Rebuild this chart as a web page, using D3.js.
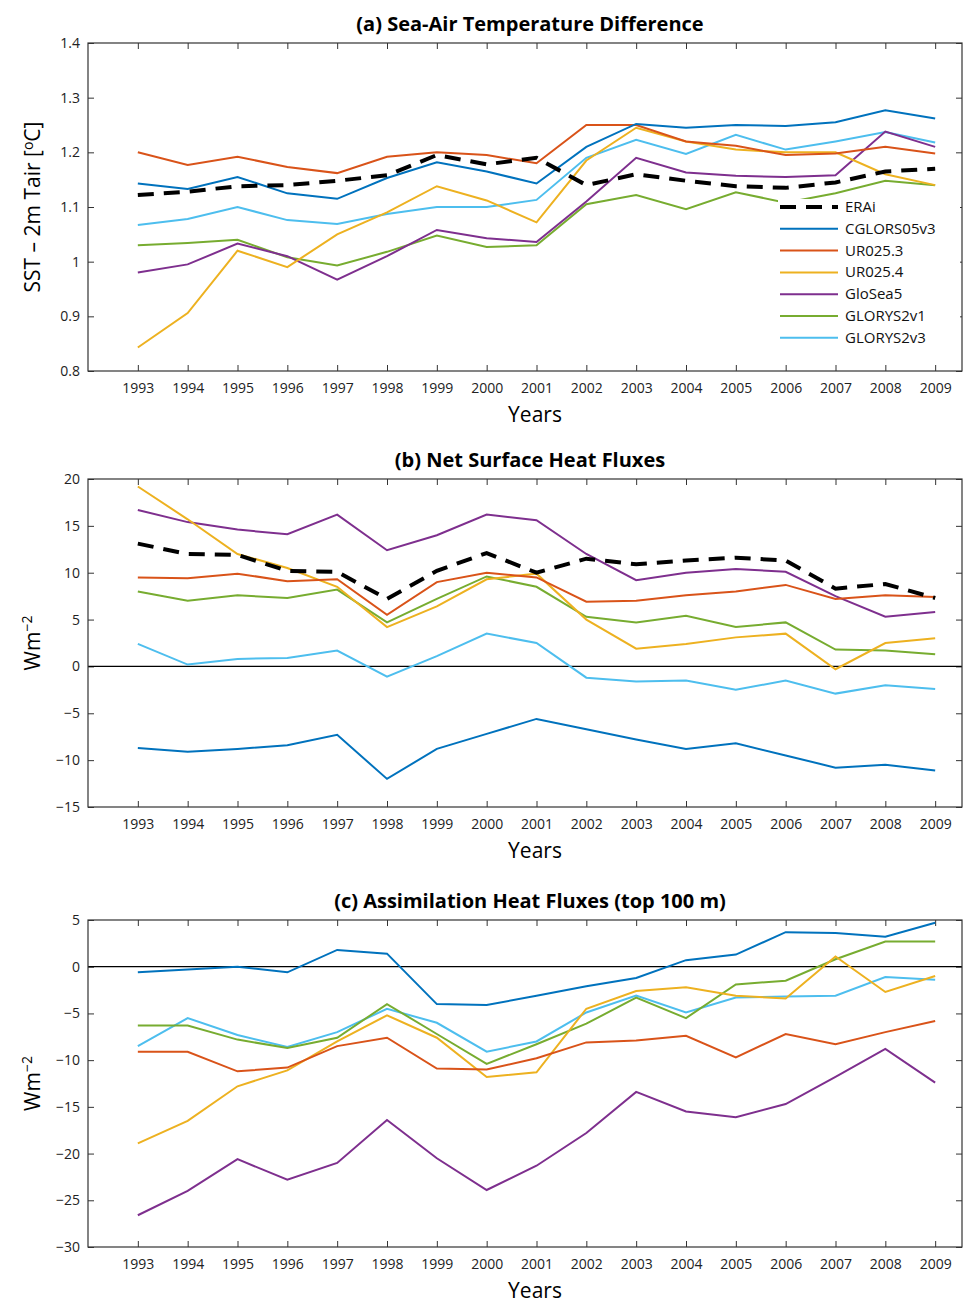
<!DOCTYPE html><html><head><meta charset="utf-8"><script src="https://d3js.org/d3.v7.min.js"></script>
<style>body{margin:0;background:#fff}text{font-family:"Open Sans","DejaVu Sans",sans-serif}</style></head><body><svg id="c" width="976" height="1303"></svg>
<script>
const years=d3.range(1993,2010);
const names=["ERAi","CGLORS05v3","UR025.3","UR025.4","GloSea5","GLORYS2v1","GLORYS2v3"];
const colors=["#000","#0072bd","#d95319","#edb120","#7e2f8e","#77ac30","#4dbeee"];
const aERAi=[1.122,1.128,1.138,1.14,1.148,1.158,1.195,1.178,1.19,1.14,1.16,1.148,1.138,1.135,1.145,1.165,1.17];
const aCGLORS=[1.143,1.133,1.155,1.125,1.115,1.153,1.182,1.165,1.143,1.21,1.252,1.245,1.25,1.248,1.255,1.277,1.262];
const aUR3=[1.2,1.177,1.192,1.173,1.162,1.192,1.2,1.195,1.18,1.25,1.25,1.22,1.212,1.195,1.198,1.21,1.198];
const aUR4=[0.843,0.906,1.02,0.99,1.05,1.09,1.138,1.112,1.072,1.185,1.245,1.22,1.205,1.2,1.2,1.16,1.14];
const aGlo=[0.98,0.995,1.033,1.01,0.967,1.01,1.058,1.043,1.036,1.11,1.19,1.163,1.157,1.155,1.158,1.238,1.21];
const aG1=[1.03,1.034,1.04,1.008,0.993,1.018,1.048,1.027,1.03,1.105,1.122,1.096,1.127,1.108,1.125,1.148,1.14];
const aG3=[1.067,1.078,1.1,1.076,1.069,1.087,1.1,1.1,1.113,1.19,1.223,1.197,1.232,1.205,1.22,1.237,1.218];
const bERAi=[13.1,12,11.9,10.2,10.1,7.2,10.2,12.1,10,11.5,10.9,11.3,11.6,11.3,8.3,8.8,7.3];
const bCGLORS=[-8.7,-9.1,-8.8,-8.4,-7.3,-12,-8.8,-7.2,-5.6,-6.7,-7.8,-8.8,-8.2,-9.5,-10.8,-10.5,-11.1];
const bUR3=[9.5,9.4,9.9,9.1,9.3,5.5,9,10,9.5,6.9,7,7.6,8,8.7,7.2,7.6,7.4];
const bUR4=[19.2,15.7,12,10.5,8.5,4.2,6.4,9.3,9.9,5,1.9,2.4,3.1,3.5,-0.3,2.5,3];
const bGlo=[16.7,15.4,14.6,14.1,16.2,12.4,14,16.2,15.6,12,9.2,10,10.4,10.1,7.5,5.3,5.8];
const bG1=[8,7,7.6,7.3,8.2,4.7,7.2,9.6,8.5,5.3,4.7,5.4,4.2,4.7,1.8,1.7,1.3];
const bG3=[2.4,0.2,0.8,0.9,1.7,-1.1,1.1,3.5,2.5,-1.2,-1.6,-1.5,-2.5,-1.5,-2.9,-2,-2.4];
const cCGLORS=[-0.6,-0.3,0,-0.6,1.8,1.4,-4,-4.1,-3.1,-2.1,-1.2,0.7,1.3,3.7,3.6,3.2,4.7];
const cUR3=[-9.1,-9.1,-11.2,-10.8,-8.5,-7.6,-10.9,-11,-9.8,-8.1,-7.9,-7.4,-9.7,-7.2,-8.3,-7,-5.8];
const cUR4=[-18.9,-16.5,-12.8,-11.1,-8,-5.2,-7.6,-11.8,-11.3,-4.5,-2.6,-2.2,-3.1,-3.4,1.1,-2.7,-1];
const cGlo=[-26.6,-24,-20.6,-22.8,-21,-16.4,-20.5,-23.9,-21.3,-17.8,-13.4,-15.5,-16.1,-14.7,-11.8,-8.8,-12.4];
const cG1=[-6.3,-6.3,-7.8,-8.7,-7.6,-4,-7.2,-10.4,-8.3,-6.1,-3.3,-5.5,-1.9,-1.5,0.8,2.7,2.7];
const cG3=[-8.5,-5.5,-7.3,-8.6,-7,-4.5,-6,-9.1,-8,-4.9,-3.1,-4.9,-3.3,-3.2,-3.1,-1.1,-1.4];
const aTicks=[0.8,0.9,1,1.1,1.2,1.3,1.4], bTicks=d3.range(-15,21,5), cTicks=d3.range(-30,6,5);

const svg=d3.select("#c");
const x=d3.scaleLinear().domain([1992,2010]).range([88,985]);
function panel(o){
  const g=svg.append("g");
  const y=d3.scaleLinear().domain(o.dom).range([o.y1,o.y0]);
  const X0=88,X1=962;
  g.append("g").attr("transform",`translate(0,${o.y1})`).call(d3.axisBottom(x).tickValues(years).tickFormat(d3.format("d")).tickSize(-6).tickPadding(12)).call(a=>{a.select(".domain").remove();a.selectAll("text").attr("font-size",14).attr("fill","#222");a.selectAll("line").attr("stroke","#333");});
  g.append("g").attr("transform",`translate(0,${o.y0})`).call(d3.axisTop(x).tickValues(years).tickFormat("").tickSize(-6)).call(a=>{a.select(".domain").remove();a.selectAll("line").attr("stroke","#333");});
  g.append("g").attr("transform",`translate(${X0},0)`).call(d3.axisLeft(y).tickValues(o.ticks).tickFormat(o.fmt).tickSize(-6).tickPadding(8)).call(a=>{a.select(".domain").remove();a.selectAll("text").attr("font-size",14).attr("fill","#222");a.selectAll("line").attr("stroke","#333");});
  g.append("g").attr("transform",`translate(${X1},0)`).call(d3.axisRight(y).tickValues(o.ticks).tickFormat("").tickSize(-6)).call(a=>{a.select(".domain").remove();a.selectAll("line").attr("stroke","#333");});
  if(o.zero) g.append("line").attr("x1",X0).attr("x2",X1).attr("y1",y(0)).attr("y2",y(0)).attr("stroke","#000").attr("stroke-width",1.3);
  const line=d3.line().x((d,i)=>x(years[i])).y(d=>y(d));
  o.series.forEach(s=>{
    const idx=names.indexOf(s.n);
    g.append("path").attr("d",line(s.v)).attr("fill","none").attr("stroke",colors[idx]).attr("stroke-width",idx==0?4:2).attr("stroke-dasharray",idx==0?"16,10":null);
  });
  if(o.legend) o.legend(g);
  g.append("rect").attr("x",X0).attr("y",o.y0).attr("width",X1-X0).attr("height",o.y1-o.y0).attr("fill","none").attr("stroke","#333").attr("stroke-width",1.2);
  g.append("text").attr("x",530).attr("y",o.y0-12).attr("text-anchor","middle").attr("font-size",20).attr("font-weight","bold").text(o.title);
  g.append("text").attr("x",535).attr("y",o.y1+51).attr("text-anchor","middle").attr("font-size",21).text("Years");
  const yl=g.append("text").attr("transform",`translate(40,${(o.y0+o.y1)/2}) rotate(-90)`).attr("text-anchor","middle").attr("font-size",21);
  o.ylab(yl);
  return y;
}
function legend(g){
  g.append("rect").attr("x",778).attr("y",199).attr("width",182).attr("height",150).attr("fill","#fff");
  names.forEach((n,i)=>{
    const yy=207+i*21.8;
    g.append("line").attr("x1",780).attr("x2",838).attr("y1",yy).attr("y2",yy).attr("stroke",colors[i]).attr("stroke-width",i==0?4:2).attr("stroke-dasharray",i==0?"16,10":null);
    g.append("text").attr("x",845).attr("y",yy+5).attr("font-size",15).attr("fill","#111").text(n);
  });
}
panel({y0:43,y1:371,dom:[0.8,1.4],ticks:aTicks,fmt:d=>d===1?"1":d3.format(".1f")(d),title:"(a) Sea-Air Temperature Difference",legend:legend,
 series:[{n:"GLORYS2v3",v:aG3},{n:"GLORYS2v1",v:aG1},{n:"GloSea5",v:aGlo},{n:"UR025.4",v:aUR4},{n:"UR025.3",v:aUR3},{n:"CGLORS05v3",v:aCGLORS},{n:"ERAi",v:aERAi}],
 ylab:t=>{t.append("tspan").text("SST – 2m Tair [");t.append("tspan").attr("dy",-7).attr("font-size",14).text("o");t.append("tspan").attr("dy",7).text("C]");}});
panel({y0:479,y1:807,dom:[-15,20],ticks:bTicks,fmt:d3.format("d"),zero:true,title:"(b) Net Surface Heat Fluxes",
 series:[{n:"GLORYS2v3",v:bG3},{n:"GLORYS2v1",v:bG1},{n:"GloSea5",v:bGlo},{n:"UR025.4",v:bUR4},{n:"UR025.3",v:bUR3},{n:"CGLORS05v3",v:bCGLORS},{n:"ERAi",v:bERAi}],
 ylab:t=>{t.append("tspan").text("Wm");t.append("tspan").attr("dy",-8).attr("font-size",14).text("−2");}});
panel({y0:920,y1:1247,dom:[-30,5],ticks:cTicks,fmt:d3.format("d"),zero:true,title:"(c) Assimilation Heat Fluxes (top 100 m)",
 series:[{n:"GLORYS2v3",v:cG3},{n:"GLORYS2v1",v:cG1},{n:"GloSea5",v:cGlo},{n:"UR025.4",v:cUR4},{n:"UR025.3",v:cUR3},{n:"CGLORS05v3",v:cCGLORS}],
 ylab:t=>{t.append("tspan").text("Wm");t.append("tspan").attr("dy",-8).attr("font-size",14).text("−2");}});
</script></body></html>
